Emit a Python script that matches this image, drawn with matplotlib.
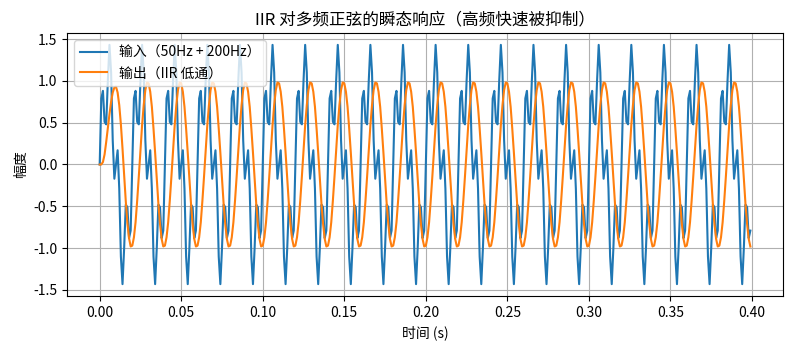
"""
IIR low-pass response to a two-tone sine (50 Hz + 200 Hz), sampled at 1 kHz.
Values read off the reference chart: one period of the input, the start-up
transient of the output and one steady-state period of the output.
"""

import numpy as np
import matplotlib.pyplot as plt

plt.rcParams['font.family'] = ['Noto Sans CJK SC', 'DejaVu Sans']
plt.rcParams['axes.unicode_minus'] = False

# sample spacing and record length
dt = 0.001
n_samples = 400

# one 20-sample period of the input (repeats through the record)
input_period = [0.00, 0.79, 0.88, 0.51, 0.48, 1.00, 1.43, 1.10, 0.29, -0.17,
                0.00, 0.17, -0.29, -1.10, -1.43, -1.00, -0.48, -0.51, -0.88, -0.79]

# output: first 20 samples (start-up), then the steady period
output_start = [0.00, 0.00, 0.03, 0.12, 0.27, 0.44, 0.60, 0.75, 0.86, 0.92,
                0.93, 0.86, 0.71, 0.48, 0.19, -0.13, -0.44, -0.70, -0.88, -0.98]
output_period = [-0.97, -0.87, -0.69, -0.43, -0.14, 0.17, 0.47, 0.71, 0.89, 0.98,
                 0.97, 0.87, 0.69, 0.43, 0.14, -0.17, -0.47, -0.71, -0.89, -0.98]

title = "IIR 对多频正弦的瞬态响应（高频快速被抑制）"
label_in = "输入（50Hz + 200Hz）"
label_out = "输出（IIR 低通）"


def main():
    t = np.arange(n_samples) * dt
    n_periods = n_samples // len(input_period)

    x_in = np.tile(input_period, n_periods)
    y_out = np.concatenate([output_start,
                            np.tile(output_period, n_periods - 1)])

    fig, ax = plt.subplots(figsize=(7.9, 3.5), dpi=100)
    ax.plot(t, x_in, label=label_in)
    ax.plot(t, y_out, label=label_out)

    ax.set_title(title)
    ax.set_xlabel("时间 (s)")
    ax.set_ylabel("幅度")
    ax.grid(True)
    ax.legend(loc="upper left")

    fig.subplots_adjust(left=0.085, right=0.991, bottom=0.154, top=0.906)
    fig.savefig("out.png", dpi=100)


if __name__ == "__main__":
    main()
